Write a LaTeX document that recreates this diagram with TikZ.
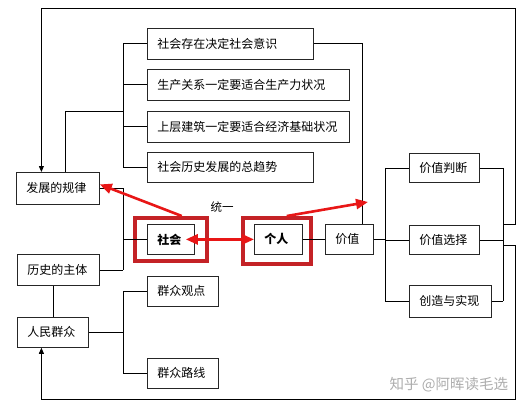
\documentclass[tikz,border=0pt]{standalone}
\usepackage{fontspec}
\setmainfont{Noto Sans CJK SC}
\usetikzlibrary{arrows.meta}
\definecolor{arrred}{RGB}{232,22,22}
\definecolor{framered}{RGB}{196,34,38}
\tikzset{
  box/.style={draw=black!85, line width=0.8pt, anchor=north west, inner xsep=10pt, inner ysep=0pt,
    align=left, font=\fontsize{12}{13}\selectfont},
  conn/.style={draw=black, line width=0.8pt},
  loop/.style={conn, -{Triangle[length=6pt,width=5pt]}},
  redframe/.style={draw=framered, line width=3.5pt, anchor=north west, inner sep=0pt},
  redarrow/.style={draw=arrred, line width=2.6pt, -{Triangle[length=12pt,width=10pt]}},
  reddouble/.style={draw=arrred, line width=2.6pt, {Triangle[length=12pt,width=10pt]}-{Triangle[length=12pt,width=10pt]}},
}
\begin{document}
\begin{tikzpicture}[x=1pt,y=-1pt]
\useasboundingbox[fill=white] (0,0) rectangle (530,409);
% red frames
\node[redframe, minimum width=72pt, minimum height=43pt] (rs) at (133,216) {};
\node[redframe, minimum width=68pt, minimum height=46pt] (rg) at (241,216) {};
% boxes
\node[box, text width=63pt, minimum height=32pt] (gui) at (16,172) {发展的规律};
\node[box, text width=62pt, minimum height=31pt] (lsz) at (17,254) {历史的主体};
\node[box, text width=51pt, minimum height=30pt] (rm) at (17,317) {人民群众};
\node[box, text width=27pt, minimum height=30pt, font=\fontsize{12}{13}\selectfont\bfseries] (shehui) at (147,224) {社会};
\node[box, text width=28pt, minimum height=30pt, font=\fontsize{12}{13}\selectfont\bfseries] (geren) at (254,224) {个人};
\node[box, text width=28pt, minimum height=30pt] (jz) at (325,224) {价值};
\node[box, text width=50pt, minimum height=29pt] (v1) at (409,153) {价值判断};
\node[box, text width=50pt, minimum height=29pt] (v2) at (409,225) {价值选择};
\node[box, text width=62pt, minimum height=32pt] (v3) at (409,285) {创造与实现};
\node[box, text width=146pt, minimum height=31pt] (s1) at (147,28) {社会存在决定社会意识};
\node[box, text width=182pt, minimum height=31pt] (s2) at (147,69) {生产关系一定要适合生产力状况};
\node[box, text width=182pt, minimum height=31pt] (s3) at (147,111) {上层建筑一定要适合经济基础状况};
\node[box, text width=146pt, minimum height=30pt] (s4) at (147,152) {社会历史发展的总趋势};
\node[box, text width=51pt, minimum height=30pt] (q1) at (147,276) {群众观点};
\node[box, text width=51pt, minimum height=30pt] (q2) at (147,358) {群众路线};
\node[font=\fontsize{11.5}{13}\selectfont] (ty) at (222,207) {统一};
% bracket coordinates
\coordinate (tb) at (123,0);
\coordinate (rb1) at (385,0);
\coordinate (rb2) at (503,0);
\coordinate (j1) at (123,111);
\coordinate (ja) at (503,224);
\coordinate (jb) at (503,245);
\coordinate (tr) at (515,8);
\coordinate (br) at (515,399);
\coordinate (tip) at (368,202);
% top bracket
\draw[conn] (s1.west -| tb) -- (s4.west -| tb);
\foreach \n in {s1,s2,s3,s4} \draw[conn] (\n.west) -- (\n.west -| tb);
\draw[conn] ([xshift=7.5pt]gui.north) |- (j1);
% s1 to value
\draw[conn] (s1.east) -| ([xshift=13pt]jz.north);
% left middle bracket
\draw[conn] (gui.east -| tb) -- (lsz.east -| tb);
\draw[conn] (gui.east) -- (gui.east -| tb);
\draw[conn] (lsz.east) -- (lsz.east -| tb);
\draw[conn] (shehui.west) -- (shehui.west -| tb);
% history subject to people
\draw[conn] (rm.north) -- (rm.north |- lsz.south);
% people bracket
\draw[conn] (q1.west -| tb) -- (q2.west -| tb);
\draw[conn] (rm.east) -- (rm.east -| tb);
\draw[conn] (q1.west) -- (q1.west -| tb);
\draw[conn] (q2.west) -- (q2.west -| tb);
% individual to value
\draw[conn] (geren.east) -- (jz.west);
% value bracket
\draw[conn] (v1.west -| rb1) -- (v3.west -| rb1);
\draw[conn] (jz.east) -- (jz.east -| rb1);
\foreach \n in {v1,v2,v3} \draw[conn] (\n.west) -- (\n.west -| rb1);
% right bracket
\draw[conn] (v1.east -| rb2) -- (v3.east -| rb2);
\foreach \n in {v1,v2,v3} \draw[conn] (\n.east) -- (\n.east -| rb2);
% feedback loops
\draw[loop] (ja) -| (tr) -| ([xshift=-16.5pt]gui.north);
\draw[loop] (jb) -| (br) -| ([xshift=-11.5pt]rm.south);
% red arrows
\draw[redarrow] ([xshift=11pt]rs.north) -- ([yshift=4pt]gui.east);
\draw[redarrow] ([xshift=10pt]rg.north) -- (tip);
\draw[reddouble] ([xshift=-9pt]shehui.east) -- (geren.west);
% watermark
\node[anchor=west, text=black!32, font=\fontsize{14.5}{16}\selectfont] (wm) at (386,385) {知乎 @阿晖读毛选};
\end{tikzpicture}
\end{document}
